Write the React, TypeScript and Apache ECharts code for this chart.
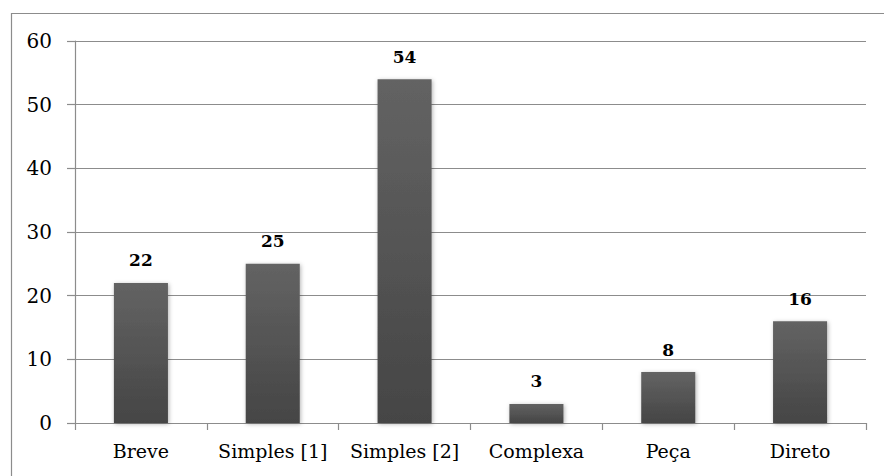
import React, { useEffect, useRef } from "react";
import * as echarts from "echarts";

const categories = ["Breve", "Simples [1]", "Simples [2]", "Complexa", "Peça", "Direto"];
const values = [22, 25, 54, 3, 8, 16];
const yTicks = { min: 0, max: 60, interval: 10 };

const FONT = "'DejaVu Serif', 'Liberation Serif', serif";

export default function App() {
  const ref = useRef<HTMLDivElement>(null);

  useEffect(() => {
    if (!ref.current) return;
    const chart = echarts.init(ref.current, undefined, { renderer: "svg" });
    chart.setOption({
      animation: false,
      backgroundColor: "#ffffff",
      graphic: [
        {
          type: "rect",
          left: 9,
          top: 11,
          shape: { width: 890, height: 480 },
          style: { fill: "none", stroke: "#8c8c8c", lineWidth: 1.2 },
          silent: true,
        },
      ],
      grid: { left: 75, right: 18, top: 41, bottom: 53 },
      xAxis: {
        type: "category",
        data: categories,
        axisLine: { lineStyle: { color: "#8c8c8c", width: 1.2 } },
        axisTick: { show: true, alignWithLabel: false, length: 7, lineStyle: { color: "#8c8c8c", width: 1.2 } },
        axisLabel: {
          interval: 0,
          hideOverlap: false,
          color: "#000",
          fontFamily: FONT,
          fontSize: 19,
          margin: 18,
        },
      },
      yAxis: {
        type: "value",
        min: yTicks.min,
        max: yTicks.max,
        interval: yTicks.interval,
        axisLine: { show: true, lineStyle: { color: "#8c8c8c", width: 1.2 } },
        axisTick: { show: true, length: 8, lineStyle: { color: "#8c8c8c", width: 1.2 } },
        axisLabel: { color: "#000", fontFamily: FONT, fontSize: 20, margin: 23 },
        splitLine: { show: true, lineStyle: { color: "#8c8c8c", width: 1.2 } },
      },
      series: [
        {
          type: "bar",
          data: values,
          barWidth: "41%",
          itemStyle: {
            color: new echarts.graphic.LinearGradient(0, 0, 0, 1, [
              { offset: 0, color: "#636363" },
              { offset: 1, color: "#454545" },
            ]),
            shadowColor: "rgba(0,0,0,0.3)",
            shadowBlur: 4,
            shadowOffsetX: 1,
            shadowOffsetY: 1,
          },
          label: {
            show: true,
            position: "top",
            distance: 14,
            color: "#000",
            fontFamily: FONT,
            fontWeight: "bold",
            fontSize: 17,
          },
        },
      ],
    });
    return () => chart.dispose();
  }, []);

  return (
    <div
      ref={ref}
      style={{ position: "absolute", left: 0, top: 0, width: 884, height: 476 }}
    />
  );
}
